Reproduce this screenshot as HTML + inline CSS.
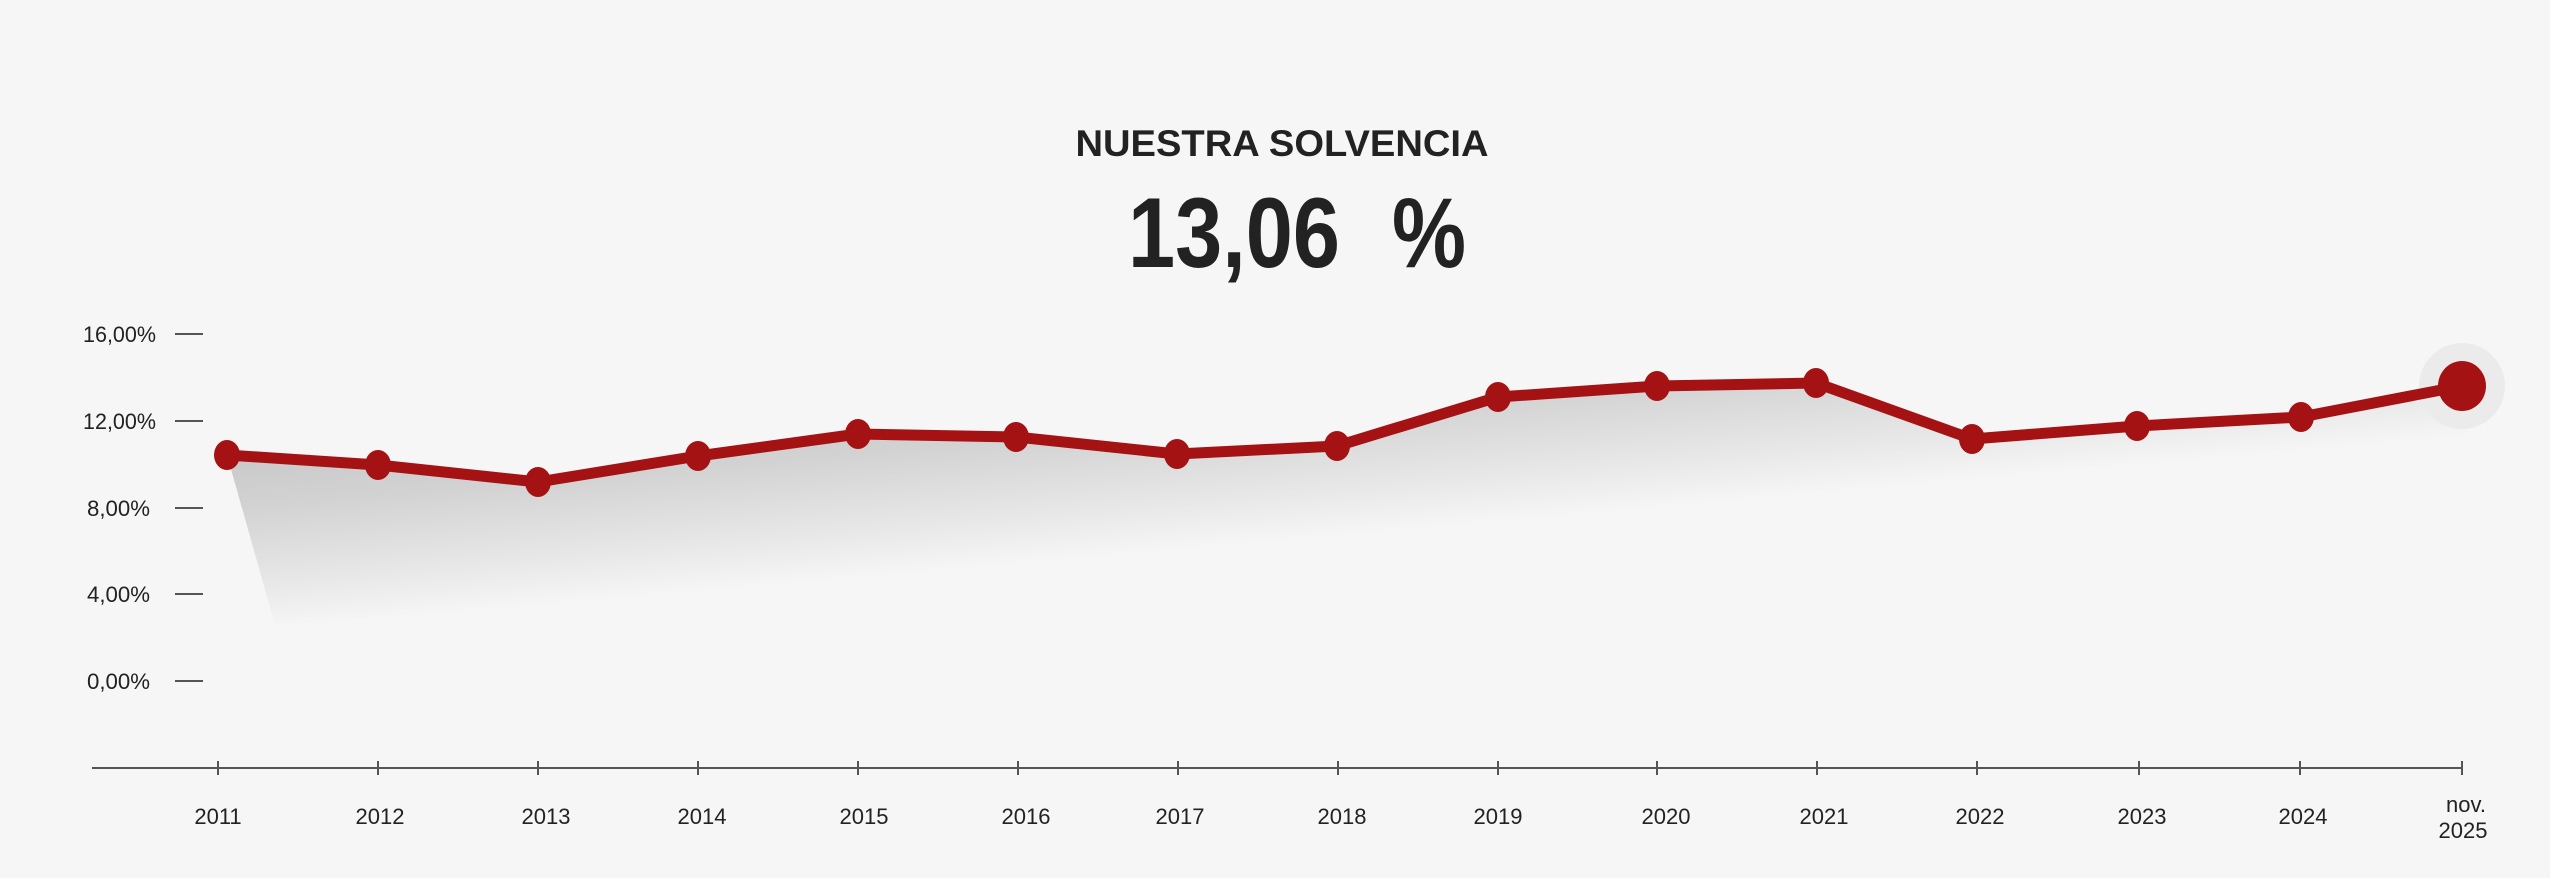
<!DOCTYPE html>
<html><head><meta charset="utf-8"><style>
html,body{margin:0;padding:0;background:#f6f6f6;}
svg{display:block;}
text{font-family:"Liberation Sans",sans-serif;fill:#222;}
</style></head><body>
<svg width="2550" height="878" viewBox="0 0 2550 878" xmlns="http://www.w3.org/2000/svg">
<defs>
<linearGradient id="g" gradientUnits="userSpaceOnUse" x1="275" y1="400" x2="295" y2="628">
<stop offset="0" stop-color="#c0c0c0"/>
<stop offset="0.45" stop-color="#d2d2d2"/>
<stop offset="0.8" stop-color="#e8e8e8"/>
<stop offset="1" stop-color="#f6f6f6"/>
</linearGradient>
</defs>
<rect width="2550" height="878" fill="#f6f6f6"/>
<text x="1282" y="156" text-anchor="middle" font-size="37" font-weight="bold" textLength="413" lengthAdjust="spacingAndGlyphs">NUESTRA SOLVENCIA</text>
<text x="1128" y="267" font-size="99" font-weight="bold" textLength="212" lengthAdjust="spacingAndGlyphs">13,06</text>
<text x="1392" y="267" font-size="99" font-weight="bold" textLength="74" lengthAdjust="spacingAndGlyphs">%</text>
<g font-size="22" text-anchor="end">
<text x="156" y="342" textLength="73" lengthAdjust="spacingAndGlyphs">16,00%</text>
<text x="156" y="429" textLength="73" lengthAdjust="spacingAndGlyphs">12,00%</text>
<text x="150" y="516" textLength="63" lengthAdjust="spacingAndGlyphs">8,00%</text>
<text x="150" y="602" textLength="63" lengthAdjust="spacingAndGlyphs">4,00%</text>
<text x="150" y="689" textLength="63" lengthAdjust="spacingAndGlyphs">0,00%</text>
</g>
<g stroke="#555" stroke-width="2">
<line x1="175" y1="334" x2="203" y2="334"/>
<line x1="175" y1="421" x2="203" y2="421"/>
<line x1="175" y1="508" x2="203" y2="508"/>
<line x1="175" y1="594" x2="203" y2="594"/>
<line x1="175" y1="681" x2="203" y2="681"/>
<line x1="92" y1="768" x2="2462" y2="768"/>
<line x1="218" y1="761" x2="218" y2="775"/><line x1="378" y1="761" x2="378" y2="775"/><line x1="538" y1="761" x2="538" y2="775"/><line x1="698" y1="761" x2="698" y2="775"/><line x1="858" y1="761" x2="858" y2="775"/><line x1="1018" y1="761" x2="1018" y2="775"/><line x1="1178" y1="761" x2="1178" y2="775"/><line x1="1338" y1="761" x2="1338" y2="775"/><line x1="1498" y1="761" x2="1498" y2="775"/><line x1="1657" y1="761" x2="1657" y2="775"/><line x1="1817" y1="761" x2="1817" y2="775"/><line x1="1977" y1="761" x2="1977" y2="775"/><line x1="2139" y1="761" x2="2139" y2="775"/><line x1="2300" y1="761" x2="2300" y2="775"/><line x1="2462" y1="761" x2="2462" y2="775"/>
</g>
<g font-size="22" text-anchor="middle">
<text x="218" y="824">2011</text><text x="380" y="824">2012</text><text x="546" y="824">2013</text><text x="702" y="824">2014</text><text x="864" y="824">2015</text><text x="1026" y="824">2016</text><text x="1180" y="824">2017</text><text x="1342" y="824">2018</text><text x="1498" y="824">2019</text><text x="1666" y="824">2020</text><text x="1824" y="824">2021</text><text x="1980" y="824">2022</text><text x="2142" y="824">2023</text><text x="2303" y="824">2024</text>
<text x="2466" y="812">nov.</text><text x="2463" y="838">2025</text>
</g>
<polygon fill="url(#g)" points="227,455 378,465 538,482 698,456 858,434 1016,437 1177,454 1337,446 1498,397 1657,386 1816,383 1972,439 2137,426 2301,417 2462,386 2472,455 275,625"/>
<circle cx="2462" cy="386" r="43" fill="#ebebeb"/>
<polyline fill="none" stroke="#a51214" stroke-width="11" stroke-linejoin="round" points="227,455 378,465 538,482 698,456 858,434 1016,437 1177,454 1337,446 1498,397 1657,386 1816,383 1972,439 2137,426 2301,417 2462,386"/>
<g fill="#a51214">
<ellipse cx="227" cy="455" rx="13" ry="15"/><ellipse cx="378" cy="465" rx="13" ry="15"/><ellipse cx="538" cy="482" rx="13" ry="15"/><ellipse cx="698" cy="456" rx="13" ry="15"/><ellipse cx="858" cy="434" rx="13" ry="15"/><ellipse cx="1016" cy="437" rx="13" ry="15"/><ellipse cx="1177" cy="454" rx="13" ry="15"/><ellipse cx="1337" cy="446" rx="13" ry="15"/><ellipse cx="1498" cy="397" rx="13" ry="15"/><ellipse cx="1657" cy="386" rx="13" ry="15"/><ellipse cx="1816" cy="383" rx="13" ry="15"/><ellipse cx="1972" cy="439" rx="13" ry="15"/><ellipse cx="2137" cy="426" rx="13" ry="15"/><ellipse cx="2301" cy="417" rx="13" ry="15"/>
<ellipse cx="2462" cy="386" rx="24" ry="25"/>
</g>
</svg>
</body></html>
